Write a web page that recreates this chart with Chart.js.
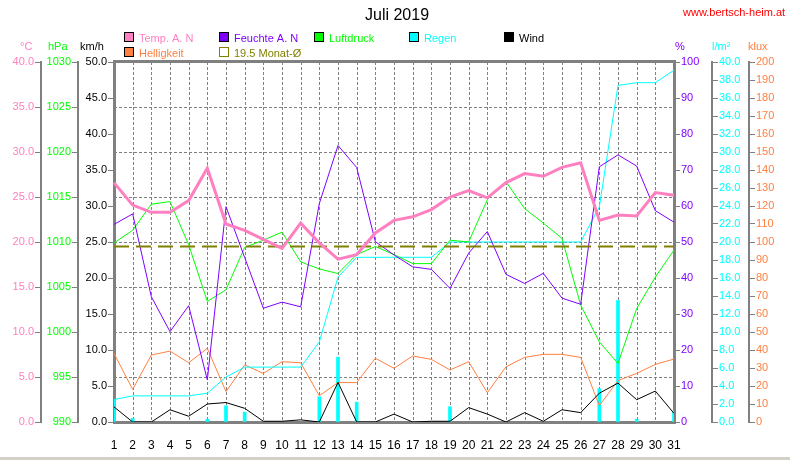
<!DOCTYPE html>
<html>
<head>
<meta charset="utf-8">
<script src="https://cdn.jsdelivr.net/npm/chart.js@4.4.0/dist/chart.umd.min.js"></script>
<style>
  html, body { margin: 0; padding: 0; background: #fff; }
  #wrap { width: 790px; height: 460px; }
</style>
</head>
<body>
<div id="wrap"><canvas id="c" width="790" height="460"></canvas></div>
<script>
// Juli 2019 weather chart: daily values, six y axes.

const DAYS = ["1","2","3","4","5","6","7","8","9","10","11","12","13","14","15","16",
  "17","18","19","20","21","22","23","24","25","26","27","28","29","30","31"];

// °C
const TEMP = [26.6, 24.1, 23.3, 23.3, 24.6, 28.2, 22.0, 21.3, 20.3, 19.3, 22.1, 19.9, 18.1, 18.6, 21.0,
  22.4, 22.8, 23.6, 25.0, 25.7, 24.9, 26.6, 27.6, 27.3, 28.3, 28.8, 22.4, 23.0, 22.9, 25.5, 25.2];
// %
const HUMID = [54.9, 57.8, 34.8, 25.1, 32.3, 11.7, 59.8, 45.7, 31.6, 33.3, 32.0, 60.7, 76.8, 70.7, 50.1,
  46.4, 43.1, 42.4, 37.1, 46.9, 52.9, 41.0, 38.5, 41.3, 34.4, 32.7, 70.9, 74.2, 71.1, 58.7, 55.5];
// hPa
const PRESS = [1009.9, 1011.3, 1014.2, 1014.5, 1009.7, 1003.4, 1004.7, 1009.4, 1010.2, 1011.1, 1007.8,
  1007.0, 1006.5, 1008.6, 1009.5, 1008.6, 1007.6, 1007.6, 1010.2, 1010.0, 1014.7, 1016.7, 1013.7,
  1012.1, 1010.4, 1003.0, 998.9, 996.5, 1002.6, 1006.1, 1009.1];
// l/m² summed over the month
const RAIN_SUM = [2.5, 2.9, 2.9, 2.9, 2.9, 3.2, 5.0, 6.1, 6.1, 6.1, 6.1, 8.9, 16.1, 18.3, 18.3,
  18.3, 18.3, 18.3, 20.0, 20.0, 20.0, 20.0, 20.0, 20.0, 20.0, 20.0, 23.9, 37.4, 37.7, 37.7, 39.1];
// l/m² per day
const RAIN_DAY = [2.5, 0.4, null, null, null, 0.3, 1.8, 1.1, null, null, null, 2.8, 7.2, 2.2, null,
  null, null, null, 1.7, null, null, null, null, null, null, null, 3.7, 13.5, 0.3, null, 1.2];
// km/h
const WIND = [2.1, 0, 0, 1.7, 0.8, 2.5, 2.7, 1.9, 0.1, 0.1, 0.3, 0, 5.5, 0, 0,
  1.1, 0, 0.1, 0.1, 2.0, 1.1, 0, 1.3, 0.1, 1.7, 1.3, 4.0, 5.4, 3.1, 4.3, 1.2];
// klux
const LIGHT = [38.1, 18.1, 37.2, 39.4, 32.9, 40.9, 16.9, 31.7, 27.0, 33.5, 32.9, 14.6, 21.9, 21.9, 35.4,
  29.8, 36.7, 34.8, 28.9, 33.5, 16.3, 30.7, 35.9, 37.6, 37.6, 35.9, 9.1, 23.0, 27.0, 32.0, 35.0];
const MONAT_AVG = 19.5;
const GRID_ROWS = 8; // °C / hPa divisions

const PINK = "#ff80c0", PURPLE = "#8000ff", GREEN = "#00ff00", CYAN = "#00ffff",
  ORANGE = "#ff8040", OLIVE = "#808000", GRAY = "#808080";
const FONT = "'Liberation Sans', Arial, sans-serif";

function yAxis(pos, weight, width, min, max, step, color, fmt, showBorder = true) {
  return {
    position: pos,
    weight,
    min, max,
    afterFit: (s) => { s.width = width; },
    ticks: {
      stepSize: step, autoSkip: false, color, padding: 1,
      font: { family: FONT, size: 11 },
      callback: (v) => fmt(v),
    },
    grid: {
      drawOnChartArea: false, drawTicks: true, tickLength: 6,
      tickColor: GRAY, tickWidth: 1, color: GRAY,
    },
    border: { display: showBorder, color: GRAY, width: 2 },
  };
}

const f1 = (v) => v.toFixed(1);
const f0 = (v) => String(Math.round(v));

const framePlugin = {
  id: "frame",
  beforeDatasetsDraw(chart) {
    const { ctx, chartArea: a } = chart;
    const w = a.right - a.left, h = a.bottom - a.top;
    ctx.save();
    // dashed grid as little filled blocks: 3 px on, 2 px off
    ctx.fillStyle = GRAY;
    for (let i = 1; i < DAYS.length - 1; i++) {
      const x = Math.round(a.left + (w * i) / (DAYS.length - 1));
      for (let y = a.top; y < a.bottom; y += 5) ctx.fillRect(x, y, 1, Math.min(3, a.bottom - y));
    }
    for (let k = 1; k < GRID_ROWS; k++) {
      const y = Math.round(a.top + (h * k) / GRID_ROWS);
      for (let x = a.left; x < a.right; x += 5) ctx.fillRect(x, y, Math.min(3, a.right - x), 1);
    }
    ctx.strokeStyle = GRAY;
    ctx.lineWidth = 3;
    ctx.strokeRect(a.left + 0.5, a.top - 0.5, w, h + 1);
    ctx.restore();
  },
  afterDraw(chart) {
    const ctx = chart.ctx;
    ctx.save();
    ctx.textBaseline = "alphabetic";
    ctx.font = `16px ${FONT}`;
    ctx.fillStyle = "#000";
    ctx.textAlign = "center";
    ctx.fillText("Juli 2019", 397, 20);
    ctx.textAlign = "left";
    ctx.font = `11px ${FONT}`;
    ctx.fillStyle = "#ff0000";
    ctx.fillText("www.bertsch-heim.at", 683, 16);

    // unit captions above the axes
    const units = [["°C", 20, PINK], ["hPa", 48, GREEN], ["km/h", 80, "#000"],
      ["%", 675, PURPLE], ["l/m²", 712, CYAN], ["klux", 748, ORANGE]];
    for (const [t, x, c] of units) { ctx.fillStyle = c; ctx.fillText(t, x, 50); }

    // legend
    const items = [
      ["Temp. A. N", 124, 32, PINK], ["Feuchte A. N", 219, 32, PURPLE], ["Luftdruck", 314, 32, GREEN],
      ["Regen", 409, 32, CYAN], ["Wind", 504, 32, "#000"], ["Helligkeit", 124, 47, ORANGE],
    ];
    ctx.lineWidth = 1;
    for (const [t, x, y, c] of items) {
      ctx.fillStyle = c;
      ctx.fillRect(x, y, 10, 10);
      ctx.strokeStyle = "#000";
      ctx.strokeRect(x + 0.5, y + 0.5, 9, 9);
      ctx.fillText(t, x + 15, y + 10);
    }
    ctx.strokeStyle = OLIVE;
    ctx.strokeRect(219.5, 47.5, 9, 9);
    ctx.fillStyle = OLIVE;
    ctx.fillText(`${MONAT_AVG} Monat-Ø`, 234, 57);

    ctx.fillStyle = "#d4d0c8";
    ctx.fillRect(0, 457, 790, 3);
    ctx.restore();
  },
};

function line(label, data, color, axis, width = 1, extra = {}) {
  return {
    type: "line", label, data, yAxisID: axis,
    borderColor: color, backgroundColor: color, borderWidth: width,
    pointRadius: 0, tension: 0, fill: false, ...extra,
  };
}

new Chart(document.getElementById("c"), {
  type: "line",
  data: {
    labels: DAYS,
    datasets: [
      line("Temp. A. N", TEMP, PINK, "temp", 3),
      line("19.5 Monat-Ø", [{ x: "1", y: MONAT_AVG }, { x: "31", y: MONAT_AVG }], OLIVE, "temp", 2,
        { borderDash: [15, 7] }),
      line("Feuchte A. N", HUMID, PURPLE, "hum"),
      line("Luftdruck", PRESS, GREEN, "hpa"),
      line("Regen", RAIN_SUM, CYAN, "rain"),
      line("Wind", WIND, "#000", "kmh"),
      line("Helligkeit", LIGHT, ORANGE, "klux"),
      {
        type: "bar", label: "Regen/Tag", data: RAIN_DAY, yAxisID: "rain",
        backgroundColor: CYAN, borderWidth: 0, barThickness: 3,
      },
    ],
  },
  options: {
    responsive: false,
    animation: false,
    devicePixelRatio: 1,
    layout: { padding: { top: 62, left: 0, right: 0, bottom: 0 } },
    plugins: { legend: { display: false }, tooltip: { enabled: false } },
    scales: {
      x: {
        type: "category",
        offset: false,
        afterFit: (s) => { s.height = 38; },
        ticks: { color: "#000", autoSkip: false, maxRotation: 0, padding: 8,
          font: { family: FONT, size: 12 } },
        grid: { offset: false, display: false },
        border: { display: false },
      },
      kmh: yAxis("left", 0, 36, 0, 50, 5, "#000", f1, false),
      hpa: yAxis("left", 1, 37, 990, 1030, 5, GREEN, f0),
      temp: yAxis("left", 2, 41, 0, 40, 5, PINK, f1),
      hum: yAxis("right", 0, 38, 0, 100, 10, PURPLE, f0, false),
      rain: yAxis("right", 1, 37, 0, 40, 2, CYAN, f1),
      klux: yAxis("right", 2, 41, 0, 200, 10, ORANGE, f0),
    },
  },
  plugins: [framePlugin],
});
</script>
</body>
</html>
